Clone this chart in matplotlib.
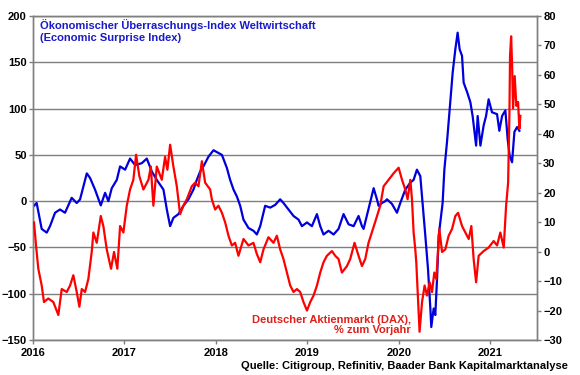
import matplotlib
matplotlib.use("Agg")
import matplotlib.pyplot as plt

plt.rcParams['font.family'] = ['Liberation Sans', 'DejaVu Sans']
plt.rcParams['font.weight'] = 'bold'

# Economic Surprise Index (left axis), x in decimal years
esi_x = [2016.011, 2016.040, 2016.095, 2016.150, 2016.186, 2016.241, 2016.295, 2016.350,
         2016.423, 2016.478, 2016.514, 2016.588, 2016.624, 2016.678, 2016.741, 2016.788,
         2016.824, 2016.861, 2016.916, 2016.952, 2017.007, 2017.061, 2017.116, 2017.189,
         2017.244, 2017.299, 2017.353, 2017.426, 2017.463, 2017.499, 2017.535, 2017.590,
         2017.644, 2017.699, 2017.754, 2017.791, 2017.827, 2017.863, 2017.918, 2017.973,
         2018.027, 2018.065, 2018.119, 2018.155, 2018.192, 2018.229, 2018.265, 2018.301,
         2018.356, 2018.410, 2018.447, 2018.484, 2018.538, 2018.593, 2018.648, 2018.702,
         2018.738, 2018.793, 2018.848, 2018.903, 2018.940, 2018.995, 2019.049, 2019.104,
         2019.140, 2019.176, 2019.231, 2019.286, 2019.340, 2019.395, 2019.450, 2019.505,
         2019.559, 2019.596, 2019.614, 2019.669, 2019.724, 2019.760, 2019.778, 2019.815,
         2019.851, 2019.870, 2019.924, 2019.979, 2020.015, 2020.070, 2020.125, 2020.161,
         2020.197, 2020.234, 2020.259, 2020.289, 2020.318, 2020.344, 2020.354, 2020.380,
         2020.398, 2020.417, 2020.435, 2020.478, 2020.497, 2020.526, 2020.562, 2020.588,
         2020.617, 2020.642, 2020.664, 2020.690, 2020.708, 2020.745, 2020.781, 2020.806,
         2020.844, 2020.861, 2020.891, 2020.927, 2020.953, 2020.981, 2021.018, 2021.073,
         2021.098, 2021.128, 2021.164, 2021.189, 2021.211, 2021.237, 2021.263, 2021.292,
         2021.317]
esi_y = [-5, -2, -30, -34, -27, -12.5, -9, -12.5,
         3.6, -2, 1.8, 30, 25, 12.5, -4.6, 9,
         0, 14, 23, 37.5, 34, 46, 39, 41,
         46, 32, 23, 12.5, -9, -27, -18, -14,
         -5, 2, 12.5, 23, 32, 37.5, 48, 55,
         52, 50, 36, 23, 12.5, 5, -5, -20,
         -29, -32, -36, -27, -5, -7, -4, 2,
         -2, -9, -16, -20, -27, -23, -27, -14,
         -27, -36, -32, -36, -30, -14, -25, -27,
         -16, -27, -30, -8, 14, 2, -5, -2,
         0, 2, -3, -12.5, -2, 12.5, 20, 23,
         34, 27, -2, -37.5, -73, -116, -136, -116,
         -123, -84, -37.5, -2, 34, 64, 107, 139,
         164, 182, 164, 157, 128, 118, 107, 92,
         60, 92, 60, 82, 92, 110, 96, 94,
         76, 92, 98, 67, 49, 42, 75, 80,
         76]

# DAX, % year over year (right axis)
dax_x = [2016.011, 2016.033, 2016.058, 2016.095, 2016.120, 2016.167, 2016.222, 2016.277,
         2016.314, 2016.369, 2016.405, 2016.441, 2016.478, 2016.507, 2016.533, 2016.569,
         2016.605, 2016.642, 2016.660, 2016.697, 2016.741, 2016.769, 2016.806, 2016.853,
         2016.886, 2016.922, 2016.952, 2016.988, 2017.025, 2017.061, 2017.097, 2017.127,
         2017.163, 2017.207, 2017.262, 2017.288, 2017.316, 2017.353, 2017.408, 2017.444,
         2017.469, 2017.499, 2017.535, 2017.572, 2017.608, 2017.644, 2017.682, 2017.736,
         2017.772, 2017.809, 2017.846, 2017.882, 2017.937, 2017.955, 2017.991, 2018.027,
         2018.065, 2018.101, 2018.137, 2018.174, 2018.210, 2018.246, 2018.301, 2018.356,
         2018.410, 2018.447, 2018.484, 2018.520, 2018.574, 2018.629, 2018.666, 2018.702,
         2018.738, 2018.776, 2018.812, 2018.848, 2018.885, 2018.921, 2018.957, 2018.995,
         2019.031, 2019.067, 2019.104, 2019.140, 2019.176, 2019.213, 2019.268, 2019.304,
         2019.340, 2019.377, 2019.432, 2019.468, 2019.515, 2019.559, 2019.596, 2019.632,
         2019.668, 2019.740, 2019.796, 2019.833, 2019.887, 2019.942, 2019.997, 2020.034,
         2020.070, 2020.095, 2020.125, 2020.143, 2020.161, 2020.179, 2020.190, 2020.205,
         2020.216, 2020.226, 2020.253, 2020.281, 2020.307, 2020.336, 2020.362, 2020.387,
         2020.409, 2020.428, 2020.442, 2020.472, 2020.508, 2020.544, 2020.581, 2020.617,
         2020.647, 2020.690, 2020.726, 2020.763, 2020.792, 2020.817, 2020.844, 2020.872,
         2020.927, 2020.981, 2021.036, 2021.073, 2021.109, 2021.146, 2021.172, 2021.194,
         2021.208, 2021.215, 2021.227, 2021.238, 2021.248, 2021.266, 2021.284, 2021.303,
         2021.317, 2021.328]
dax_y = [9.9, 2.1, -5.8, -11.5, -17.1, -15.9, -17.1, -21.5,
         -12.7, -13.7, -11.5, -8.0, -13.7, -18.7, -12.7, -13.7,
         -9.3, -0.1, 6.5, 3.0, 12.1, 8.7, 0.8, -5.8,
         -0.1, -5.8, 8.7, 6.5, 15.6, 21.1, 24.4, 32.9,
         25.6, 21.1, 24.4, 28.9, 15.6, 28.9, 24.4, 32.2,
         27.8, 36.3, 28.9, 22.2, 12.7, 15.6, 17.8, 22.2,
         23.4, 22.2, 30.7, 23.4, 21.1, 17.8, 14.3, 15.6,
         13.2, 9.9, 5.4, 2.1, 3.0, -1.4, 4.3, 2.1,
         3.0, -0.8, -3.6, 0.8, 4.9, 3.0, 5.4, 0.8,
         -2.5, -7.1, -11.5, -13.7, -12.7, -13.7, -17.1, -20.0,
         -17.1, -14.9, -11.5, -7.1, -3.6, -1.4, 0.2, -1.4,
         -2.5, -7.1, -4.9, -2.5, 3.0, -1.4, -4.9, -2.5,
         3.0, 10.0, 15.6, 22.2, 24.4, 26.6, 28.5, 24.4,
         21.1, 17.8, 24.4, 17.8, 6.5, 0.8, -3.6, -13.7,
         -20.6, -27.2, -17.1, -11.5, -14.9, -10.4, -13.7, -7.1,
         -9.3, 0.8, 7.7, -0.1, 0.8, 5.4, 7.7, 12.1,
         13.2, 8.7, 6.5, 4.3, 8.7, -2.5, -10.4, -1.4,
         0.2, 1.4, 3.6, 2.1, 6.5, 1.4, 15.6, 23.4,
         46.1, 66.5, 73.1, 63.0, 48.6, 59.6, 49.5, 50.8,
         41.7, 46.1]

left_ticks = [-150, -100, -50, 0, 50, 100, 150, 200]
right_ticks = [-30, -20, -10, 0, 10, 20, 30, 40, 50, 60, 70, 80]
year_ticks = [2016, 2017, 2018, 2019, 2020, 2021]
year_labels = ['2016', '2017', '2018', '2019', '2020', '2021']

blue = '#0000DD'
red = '#FF0000'
grid_c = '#7F7F7F'

fig = plt.figure(figsize=(5.8, 3.75), dpi=100)
ax = fig.add_axes([0.0569, 0.0933, 0.869, 0.864])
ax2 = ax.twinx()

ax.set_xlim(2016, 2021.51)
ax.set_ylim(-150, 200)
ax2.set_ylim(-30, 80)
ax.set_yticks(left_ticks)
ax2.set_yticks(right_ticks)
ax.set_xticks(year_ticks)
ax.set_xticklabels(year_labels)

ax.grid(axis='y', color=grid_c, linewidth=1.0)
ax.set_axisbelow(True)

ax.plot(esi_x, esi_y, color=blue, linewidth=1.6, zorder=3)
ax2.plot(dax_x, dax_y, color=red, linewidth=1.6, zorder=3)

for a in (ax, ax2):
    for s in a.spines.values():
        s.set_color(grid_c)
        s.set_linewidth(1.0)
    a.tick_params(axis='both', direction='out', length=3, width=1,
                  color=grid_c, labelsize=8, labelcolor='black', pad=1.5)
ax.tick_params(axis='x', pad=3)

for lab in ax.get_xticklabels() + ax.get_yticklabels() + ax2.get_yticklabels():
    lab.set_fontweight('bold')

fig.text(40 / 580, 1 - 31 / 375,
         'Ökonomischer Überraschungs-Index Weltwirtschaft\n(Economic Surprise Index)',
         color='#1A1AC8', fontsize=8, fontweight='bold', ha='left', va='center',
         linespacing=1.2)
fig.text(411 / 580, 1 - 325 / 375,
         'Deutscher Aktienmarkt (DAX),\n% zum Vorjahr',
         color='#E0201A', fontsize=8, fontweight='bold', ha='right', va='center',
         multialignment='right', linespacing=1.1)
fig.text(568 / 580, 1 - 366 / 375,
         'Quelle: Citigroup, Refinitiv, Baader Bank Kapitalmarktanalyse',
         color='black', fontsize=8, fontweight='bold', ha='right', va='center')

fig.savefig('out.png', dpi=100)
